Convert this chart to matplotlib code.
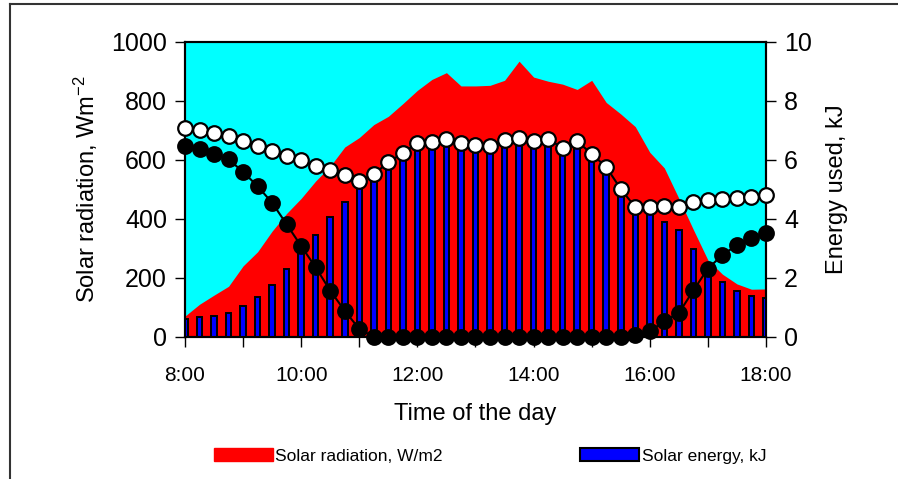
import numpy as np
import matplotlib.pyplot as plt
from matplotlib.lines import Line2D
from matplotlib.patches import Patch

# time of day, every 15 min
times = ['8:00', '8:15', '8:30', '8:45', '9:00', '9:15', '9:30', '9:45',
         '10:00', '10:15', '10:30', '10:45', '11:00', '11:15', '11:30', '11:45',
         '12:00', '12:15', '12:30', '12:45', '13:00', '13:15', '13:30', '13:45',
         '14:00', '14:15', '14:30', '14:45', '15:00', '15:15', '15:30', '15:45',
         '16:00', '16:15', '16:30', '16:45', '17:00', '17:15', '17:30', '17:45', '18:00']

# solar radiation, W/m2 (left axis)
radiation = [70, 110, 141, 171, 240, 288, 358, 418, 469, 528,
             578, 643, 675, 719, 747, 790, 835, 872, 895, 850,
             850, 852, 869, 934, 880, 866, 856, 838, 869, 794,
             755, 712, 625, 572, 469, 363, 260, 212, 179, 161, 162]

# solar energy, kJ (bars, right axis)
solar_energy = [0.60, 0.66, 0.71, 0.81, 1.04, 1.36, 1.77, 2.30, 2.95, 3.44,
                4.06, 4.57, 5.05, 5.35, 5.75, 6.10, 6.45, 6.45, 6.55, 6.45,
                6.40, 6.35, 6.55, 6.60, 6.50, 6.60, 6.25, 6.50, 6.05, 5.60,
                4.85, 4.25, 4.25, 3.88, 3.61, 2.99, 2.35, 1.86, 1.56, 1.39, 1.30]

# energy used, kJ (white and black markers, right axis)
energy_white = [7.08, 7.02, 6.92, 6.82, 6.63, 6.46, 6.29, 6.12, 5.98, 5.78,
                5.65, 5.47, 5.28, 5.51, 5.91, 6.23, 6.57, 6.59, 6.70, 6.55,
                6.51, 6.47, 6.66, 6.75, 6.64, 6.71, 6.39, 6.62, 6.20, 5.75,
                5.01, 4.39, 4.39, 4.44, 4.40, 4.56, 4.62, 4.66, 4.69, 4.74, 4.82]
energy_black = [6.48, 6.37, 6.20, 6.01, 5.59, 5.10, 4.54, 3.81, 3.07, 2.35,
                1.56, 0.88, 0.26, 0, 0, 0, 0, 0, 0, 0,
                0, 0, 0, 0, 0, 0, 0, 0, 0, 0,
                0, 0.05, 0.18, 0.53, 0.80, 1.57, 2.31, 2.77, 3.11, 3.33, 3.53]

hours = np.array([int(t.split(':')[0]) + int(t.split(':')[1]) / 60 for t in times])

plt.rcParams['font.family'] = ['Liberation Sans', 'DejaVu Sans']
plt.rcParams['mathtext.default'] = 'regular'

fig = plt.figure(figsize=(8.98, 4.79), dpi=100)
ax = fig.add_axes([0.206, 0.297, 0.647, 0.616])
ax2 = ax.twinx()

ax.set_facecolor('#00FFFF')
ax.fill_between(hours, radiation, color='#FF0000', lw=0)

ax2.bar(hours, solar_energy, width=0.095, color='#0000FF', edgecolor='black', linewidth=1.4, zorder=2)
ax2.plot(hours, energy_white, color='black', lw=1.5, marker='o', ms=10.5, mfc='white', mec='black', mew=1.6, zorder=3, clip_on=False)
ax2.plot(hours, energy_black, color='black', lw=1.5, marker='o', ms=10.5, mfc='black', mec='black', mew=1.6, zorder=3, clip_on=False)

ax.set_xlim(8, 18)
ax.set_ylim(0, 1000)
ax2.set_ylim(0, 10)

ax.set_xticks([8, 10, 12, 14, 16, 18])
ax.set_xticklabels(['8:00', '10:00', '12:00', '14:00', '16:00', '18:00'])
ax.set_xticks([9, 11, 13, 15, 17], minor=True)
ax.set_yticks([0, 200, 400, 600, 800, 1000])
ax2.set_yticks([0, 2, 4, 6, 8, 10])

ax.tick_params(axis='x', which='both', length=7, width=1, pad=14, labelsize=15)
ax.tick_params(axis='y', length=7, width=1, labelsize=18, pad=6)
ax2.tick_params(axis='y', length=7, width=1, labelsize=18, pad=6)

for a in (ax, ax2):
    for s in a.spines.values():
        s.set_linewidth(1.5)

ax.set_ylabel('Solar radiation, Wm$^{-2}$', fontsize=17, labelpad=8)
ax2.set_ylabel('Energy used, kJ', fontsize=17, labelpad=10)
ax.set_xlabel('Time of the day', fontsize=17, labelpad=13)

handles = [Patch(facecolor='#FF0000', edgecolor='#FF0000'),
           Patch(facecolor='#0000FF', edgecolor='black', linewidth=1.5)]
fig.legend(handles, ['Solar radiation, W/m2', 'Solar energy, kJ'], loc='center left',
           bbox_to_anchor=(0.238, 0.048), ncol=2, frameon=False, fontsize=12.5,
           handlelength=3.4, handleheight=0.75, handletextpad=0.15, columnspacing=7.9,
           borderpad=0, borderaxespad=0)

# outer frame
fig.add_artist(Line2D([9.5 / 898, 9.5 / 898], [0, 1 - 3.5 / 479], color='#333333', lw=1.5))
fig.add_artist(Line2D([9.5 / 898, 1], [1 - 3.5 / 479, 1 - 3.5 / 479], color='#333333', lw=1.5))

fig.savefig('out.png', dpi=100)
